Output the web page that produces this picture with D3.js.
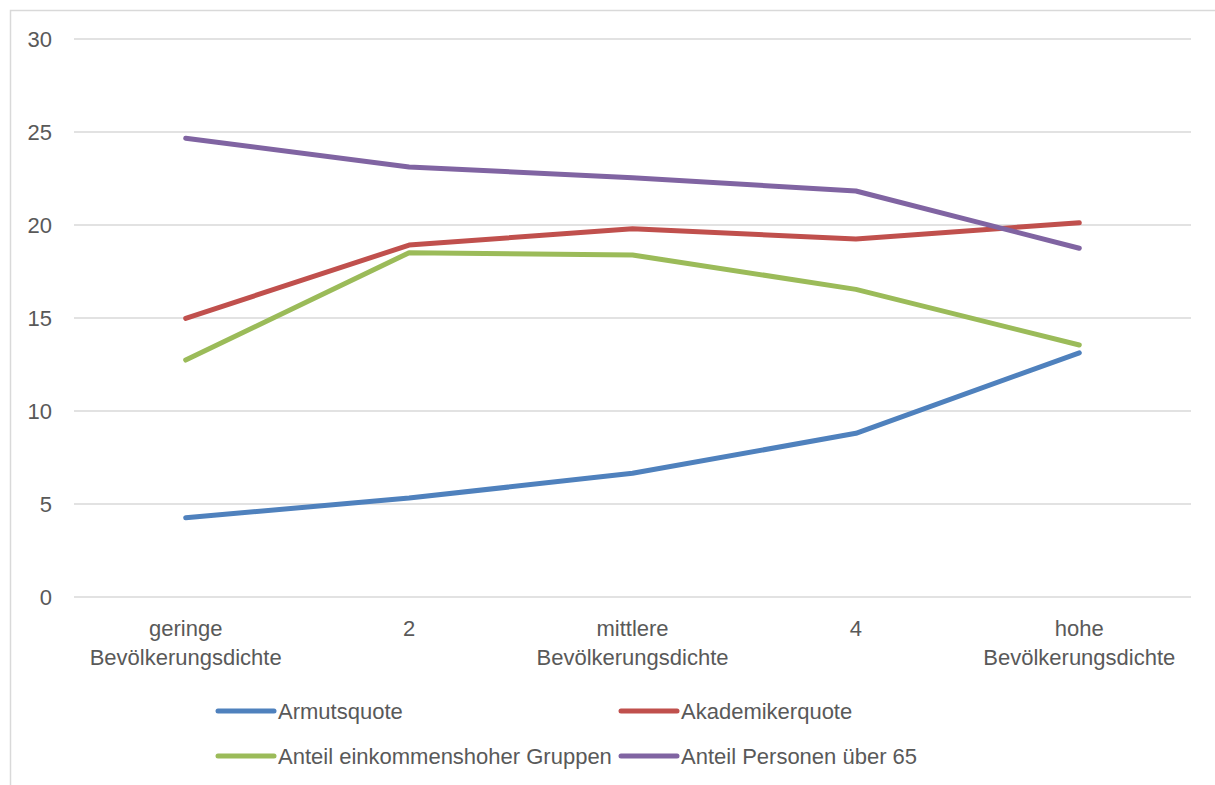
<!DOCTYPE html>
<html>
<head>
<meta charset="utf-8">
<script src="https://cdn.jsdelivr.net/npm/d3@7"></script>
<style>
  html, body { margin: 0; padding: 0; background: #fff; }
  svg { display: block; }
  text { font-family: "Liberation Sans", Arial, sans-serif; fill: #595959; }
</style>
</head>
<body>
<svg id="chart" width="1215" height="785"></svg>
<script>
const categories = [
  ["geringe", "Bevölkerungsdichte"],
  ["2"],
  ["mittlere", "Bevölkerungsdichte"],
  ["4"],
  ["hohe", "Bevölkerungsdichte"]
];
const yTicks = [0, 5, 10, 15, 20, 25, 30];
const armutsquote = [4.26, 5.32, 6.65, 8.8, 13.13];
const akademikerquote = [14.98, 18.92, 19.8, 19.25, 20.12];
const einkommenshoch = [12.74, 18.51, 18.39, 16.54, 13.55];
const ueber65 = [24.66, 23.12, 22.54, 21.83, 18.75];
const seriesNames = ["Armutsquote", "Akademikerquote", "Anteil einkommenshoher Gruppen", "Anteil Personen über 65"];
const seriesColors = ["#4f81bd", "#c0504d", "#9bbb59", "#8064a2"];

const series = [armutsquote, akademikerquote, einkommenshoch, ueber65].map((v, i) => ({
  name: seriesNames[i], color: seriesColors[i], values: v
}));

const svg = d3.select("#chart");

// outer chart border
svg.append("rect")
  .attr("x", 10.5).attr("y", 10.5)
  .attr("width", 1300).attr("height", 900)
  .attr("fill", "none").attr("stroke", "#d9d9d9").attr("stroke-width", 1.5);

const plotLeft = 74, plotRight = 1191, plotTop = 39, plotBottom = 597;

const x = d3.scaleBand().domain(d3.range(categories.length)).range([plotLeft, plotRight]);
const y = d3.scaleLinear().domain([0, 30]).range([plotBottom, plotTop]);

// gridlines
svg.append("g").selectAll("line").data(yTicks).join("line")
  .attr("x1", plotLeft).attr("x2", plotRight)
  .attr("y1", d => y(d)).attr("y2", d => y(d))
  .attr("stroke", "#d9d9d9").attr("stroke-width", 1.5);

// y tick labels
svg.append("g").selectAll("text").data(yTicks).join("text")
  .attr("x", 52).attr("y", d => y(d))
  .attr("dy", "0.36em")
  .attr("text-anchor", "end")
  .style("font-size", "22px")
  .text(d => d);

// x category labels
const xl = svg.append("g").selectAll("text").data(categories).join("text")
  .attr("text-anchor", "middle")
  .style("font-size", "22px");
xl.each(function(d, i) {
  const t = d3.select(this);
  d.forEach((lineTxt, j) => {
    t.append("tspan")
      .attr("x", x(i) + x.bandwidth() / 2)
      .attr("y", 636 + j * 29)
      .text(lineTxt);
  });
});

// lines
const line = d3.line()
  .x((d, i) => x(i) + x.bandwidth() / 2)
  .y(d => y(d));

svg.append("g").selectAll("path").data(series).join("path")
  .attr("d", d => line(d.values))
  .attr("fill", "none")
  .attr("stroke", d => d.color)
  .attr("stroke-width", 5)
  .attr("stroke-linejoin", "round")
  .attr("stroke-linecap", "round");

// legend
const legendPos = [
  { lx: 218, ly: 711 },
  { lx: 621, ly: 711 },
  { lx: 218, ly: 756 },
  { lx: 621, ly: 756 }
];
const lg = svg.append("g").selectAll("g").data(series).join("g")
  .attr("transform", (d, i) => `translate(${legendPos[i].lx},${legendPos[i].ly})`);
lg.append("line")
  .attr("x1", 0).attr("x2", 56).attr("y1", 0).attr("y2", 0)
  .attr("stroke", d => d.color).attr("stroke-width", 5)
  .attr("stroke-linecap", "round");
lg.append("text")
  .attr("x", 60).attr("y", 7.5)
  .style("font-size", "22px")
  .text(d => d.name);
</script>
</body>
</html>
